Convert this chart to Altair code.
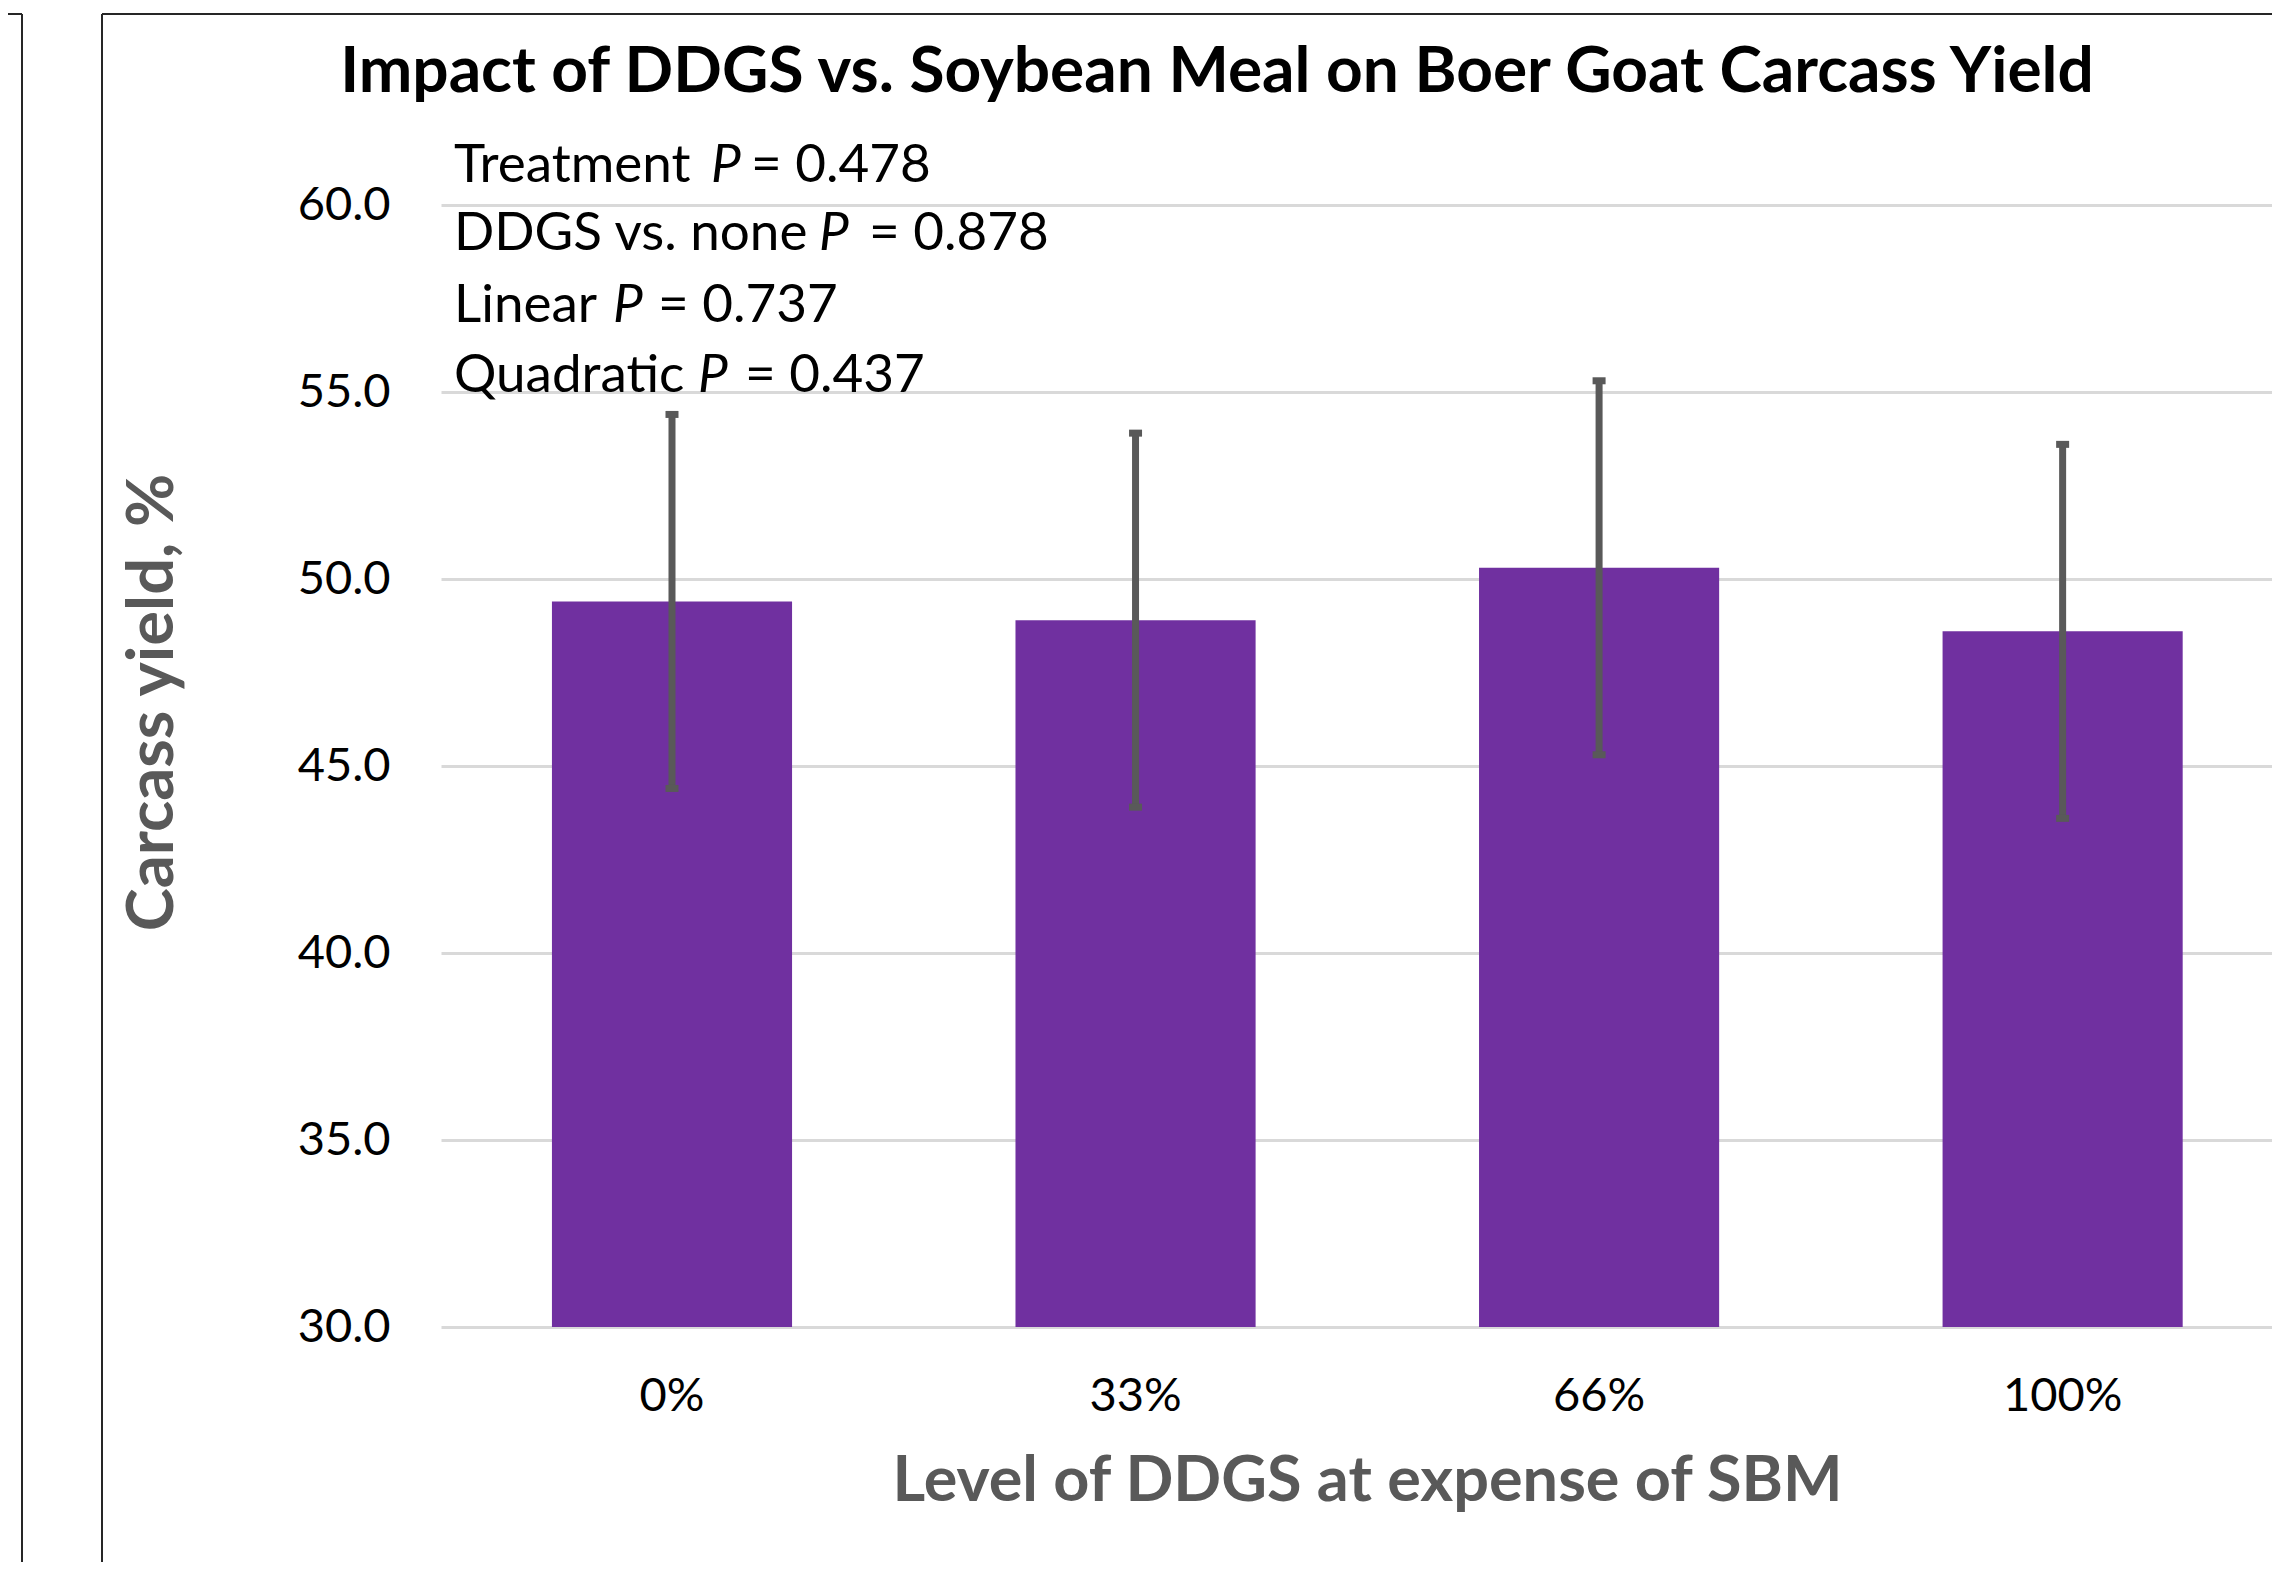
import altair as alt
import pandas as pd

# ---------------- data ----------------
levels = ["0%", "33%", "66%", "100%"]
carcass_yield = [49.4, 48.9, 50.3, 48.6]
sem = [5.0, 5.0, 5.0, 5.0]
y_ticks = [30, 35, 40, 45, 50, 55, 60]
contrast_names = ["Treatment", "DDGS vs. none", "Linear", "Quadratic"]
contrast_p = ["0.478", "0.878", "0.737", "0.437"]

title_text = "Impact of DDGS vs. Soybean Meal on Boer Goat Carcass Yield"
x_title = "Level of DDGS at expense of SBM"
y_title = "Carcass yield, %"

# ---------------- layout / style ----------------
W, H = 1831, 1122
FONT = "Lato"
PURPLE = "#7030A0"
ERR = "#595959"
GRID = "#D9D9D9"
TITLE_GRAY = "#595959"
FRAME = "#262626"

# annotation layout (pixels relative to plot area): prefix x, "P" x, "=" x, baseline y
ann_prefix_x = 13
ann_P_x = [270, 378, 172, 257]
ann_eq_x = [310, 428, 217, 304]
ann_y = [-23, 45, 117, 187]

df = pd.DataFrame({"level": levels, "yield": carcass_yield, "sem": sem})
df["lo"] = df["yield"] - df["sem"]
df["hi"] = df["yield"] + df["sem"]

one = pd.DataFrame({"k": [0]})

x_scale = alt.Scale(paddingInner=0.482, paddingOuter=0.216, align=0.554)
y_scale = alt.Scale(domain=[30, 60], zero=False, nice=False)

x_axis = alt.Axis(
    title=x_title, labelFont=FONT, labelFontSize=47, labelColor="#000000",
    labelAngle=0, labelBaseline="middle", labelPadding=69,
    ticks=False, domain=False, grid=False,
    titleFont=FONT, titleFontSize=63, titleFontWeight="bold", titleColor=TITLE_GRAY,
    titleX=926, titleY=173, titleAlign="center", titleBaseline="alphabetic",
)
y_axis = alt.Axis(
    title=y_title, values=y_ticks, format=".1f",
    labelFont=FONT, labelFontSize=47, labelColor="#000000", labelPadding=51,
    labelBaseline="middle",
    ticks=False, domain=False, grid=True, gridColor=GRID, gridWidth=3,
    titleFont=FONT, titleFontSize=65, titleFontWeight="bold", titleColor=TITLE_GRAY,
    titleX=-269, titleY=497, titleAngle=270, titleAlign="center", titleBaseline="alphabetic",
)

x_enc = alt.X("level:N", sort=levels, scale=x_scale, axis=x_axis)

bars = alt.Chart(df).mark_bar(color=PURPLE).encode(
    x=x_enc,
    y=alt.Y("yield:Q", scale=y_scale, axis=y_axis),
    y2=alt.datum(30),
)

err = alt.Chart(df).mark_rule(color=ERR, strokeWidth=7).encode(
    x=alt.X("level:N", sort=levels),
    y=alt.Y("lo:Q"),
    y2="hi:Q",
)
cap_hi = alt.Chart(df).mark_tick(color=ERR, thickness=7, size=13, opacity=1).encode(
    x=alt.X("level:N", sort=levels), y=alt.Y("hi:Q")
)
cap_lo = alt.Chart(df).mark_tick(color=ERR, thickness=7, size=13, opacity=1).encode(
    x=alt.X("level:N", sort=levels), y=alt.Y("lo:Q")
)

layers = [bars, err, cap_hi, cap_lo]

# title
layers.append(
    alt.Chart(one).mark_text(font=FONT, fontSize=64, fontWeight="bold", color="#000000",
                             align="center", baseline="alphabetic").encode(
        x=alt.value(776), y=alt.value(-113), text=alt.value(title_text))
)

# annotation lines with italic P
ANN_SIZE = 53
for i, name in enumerate(contrast_names):
    base = dict(font=FONT, fontSize=ANN_SIZE, color="#000000", align="left", baseline="alphabetic")
    layers.append(alt.Chart(one).mark_text(**base).encode(
        x=alt.value(ann_prefix_x), y=alt.value(ann_y[i]), text=alt.value(name)))
    layers.append(alt.Chart(one).mark_text(fontStyle="italic", **base).encode(
        x=alt.value(ann_P_x[i]), y=alt.value(ann_y[i]), text=alt.value("P")))
    layers.append(alt.Chart(one).mark_text(**base).encode(
        x=alt.value(ann_eq_x[i]), y=alt.value(ann_y[i]), text=alt.value("= " + contrast_p[i])))

# decorative chart frames (slide borders)
def rule(x, x2, y, y2, w=2):
    return alt.Chart(one).mark_rule(color=FRAME, strokeWidth=w).encode(
        x=alt.value(x), x2=alt.value(x2), y=alt.value(y), y2=alt.value(y2))

layers += [
    rule(-339, 1900, -191, -191),
    rule(-339, -339, -191, 1400),
    rule(-419, -419, -191, 1400),
    rule(-460, -419, -191, -191),
]

chart = alt.layer(*layers).properties(
    width=W, height=H,
    padding={"left": 433, "top": 197, "right": 0, "bottom": 235},
    autosize=alt.AutoSizeParams(type="none"),
    background="#FFFFFF",
).configure_view(stroke=None)

chart.save("out.html", embed_options={"renderer": "svg", "actions": False})
